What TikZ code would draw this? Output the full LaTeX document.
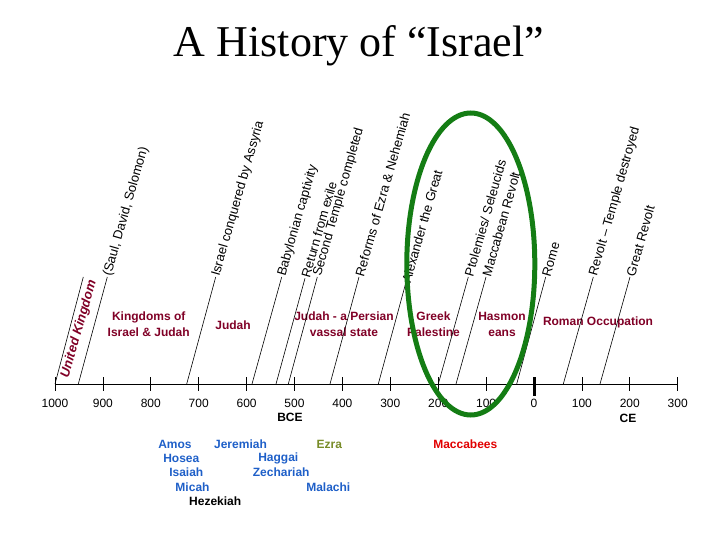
\documentclass[tikz,border=0pt]{standalone}
\usepackage{fontspec}
\setmainfont{Liberation Serif}
\newfontfamily\arial{Liberation Sans}
\definecolor{maroon}{RGB}{128,0,38}
\definecolor{prophet}{RGB}{30,95,200}
\definecolor{ezracol}{RGB}{120,140,40}
\definecolor{macred}{RGB}{225,0,0}
\definecolor{ovalgreen}{RGB}{20,125,20}
\begin{document}
\begin{tikzpicture}[x=1pt,y=1pt,
  evt/.style={font=\arial\fontsize{13}{15}\selectfont, rotate=74, anchor=west, inner sep=1pt},
  period/.style={font=\arial\bfseries\fontsize{12}{16}\selectfont, text=maroon, align=center, inner sep=0pt},
  yearlab/.style={font=\arial\fontsize{12}{14}\selectfont, inner sep=0pt},
  eralab/.style={font=\arial\bfseries\fontsize{12}{14}\selectfont, inner sep=0pt},
  pname/.style={font=\arial\bfseries\fontsize{12}{14}\selectfont, text=prophet, inner sep=0pt},
  evline/.style={line width=0.6pt},
  tickline/.style={line width=0.8pt},
]
\useasboundingbox (0,0) rectangle (720,-540);

% title
\node[font=\fontsize{44}{50}\selectfont, anchor=base, inner sep=0pt] (title) at (359,-56.7) {A History of “Israel”};

% period labels
\node[period] (kingdoms) at (148.7,-324) {Kingdoms of\\Israel \& Judah};
\node[period] (judah) at (233,-325) {Judah};
\node[period] (persian) at (344,-324) {Judah - a Persian\\vassal state};
\node[period] (greek) at (433.5,-324) {Greek\\Palestine};
\node[period] (hasmon) at (502,-324) {Hasmon\\eans};
\node[period] (roman) at (598,-322.3) {Roman Occupation};
\node[font=\arial\bfseries\itshape\fontsize{13}{15}\selectfont, text=maroon, rotate=74, inner sep=0pt] (uk) at (79,-329) {United Kingdom};

% axis
\coordinate (axL) at (55,-384);
\coordinate (axR) at (677.7,-384);
\draw[tickline] (axL) -- (axR);
\foreach \i/\lab in {0/1000,1/900,2/800,3/700,4/600,5/500,6/400,7/300,8/200,9/100,11/100,12/200,13/300}{
  \coordinate (tk\i) at ({55+\i*47.9},-377);
  \coordinate (tb\i) at ({55+\i*47.9},-391);
  \draw[tickline] (tk\i) -- (tb\i);
  \node[yearlab] (yl\i) at ({55+\i*47.9},-403) {\lab};
}
\coordinate (tk10) at (534,-377);
\coordinate (tb10) at (534,-396);
\draw[line width=3pt] (tk10) -- (tb10);
\node[yearlab] (yl10) at (534,-403) {0};
\node[eralab] (bce) at (290,-417.5) {BCE};
\node[eralab] (ce) at (628,-418) {CE};

% event lines and labels
\coordinate (b1) at (55,-384);    \coordinate (t1) at (83.3,-277);
\coordinate (b2) at (78.3,-384);  \coordinate (t2) at (107.3,-277);
\coordinate (b3) at (186.7,-384); \coordinate (t3) at (215.7,-277);
\coordinate (b4) at (252,-384);   \coordinate (t4) at (281.7,-277);
\coordinate (b5) at (276,-384);   \coordinate (t5) at (305,-278.3);
\coordinate (b6) at (288.3,-384); \coordinate (t6) at (317.3,-277);
\coordinate (b7) at (330,-384);   \coordinate (t7) at (359,-277);
\coordinate (b8) at (378.3,-384); \coordinate (t8) at (405.7,-283.3);
\coordinate (b9) at (438.3,-384); \coordinate (t9) at (468.3,-277);
\coordinate (b10) at (456,-384);  \coordinate (t10) at (486,-277);
\coordinate (b11) at (516.7,-384);\coordinate (t11) at (545.7,-277);
\coordinate (b12) at (563.3,-384);\coordinate (t12) at (593.3,-277);
\coordinate (b13) at (600,-384);  \coordinate (t13) at (630,-277);
\foreach \k in {1,...,13}{ \draw[evline] (b\k) -- (t\k); }

\node[evt] (e2) at (t2) {(Saul, David, Solomon)};
\node[evt] (e3) at (t3) {Israel conquered by Assyria};
\node[evt] (e4) at (t4) {Babylonian captivity};
\node[evt] (e5) at (t5) {Return from exile};
\node[evt] (e6) at (t6) {Second Temple completed};
\node[evt] (e7) at (t7) {Reforms of Ezra \& Nehemiah};
\node[evt] (e8) at (t8) {Alexander the Great};
\node[evt] (e9) at (t9) {Ptolemies/ Seleucids};
\node[evt] (e10) at (t10) {Maccabean Revolt};
\node[evt] (e11) at (t11) {Rome};
\node[evt] (e12) at (t12) {Revolt – Temple destroyed};
\node[evt] (e13) at (t13) {Great Revolt};

% prophets and people
\node[pname] (amos) at (175,-444.3) {Amos};
\node[pname] (jeremiah) at (240.5,-444.3) {Jeremiah};
\node[pname, text=ezracol] (ezra) at (329.3,-444.3) {Ezra};
\node[pname] (hosea) at (181.3,-458.7) {Hosea};
\node[pname] (haggai) at (278.3,-458.7) {Haggai};
\node[pname] (isaiah) at (186.3,-472.3) {Isaiah};
\node[pname] (zechariah) at (281.2,-472.3) {Zechariah};
\node[pname] (micah) at (192.5,-487.7) {Micah};
\node[pname] (malachi) at (328.3,-487.7) {Malachi};
\node[pname, text=black] (hezekiah) at (215.2,-501) {Hezekiah};
\node[pname, text=macred] (maccabees) at (465.3,-444.7) {Maccabees};

% green oval
\draw[ovalgreen, line width=5pt] (470.8,-264) ellipse [x radius=64, y radius=151];
\end{tikzpicture}
\end{document}
